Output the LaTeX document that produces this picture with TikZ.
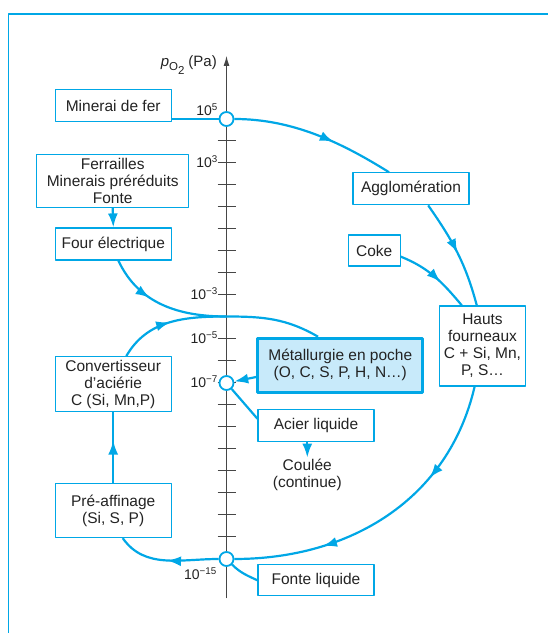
\documentclass[tikz,border=0pt]{standalone}
\usepackage{fontspec}
\setmainfont{Liberation Sans}
\usetikzlibrary{arrows.meta,decorations.markings}
\definecolor{flowblue}{RGB}{0,167,230}
\definecolor{pochefill}{RGB}{200,234,250}
\definecolor{inkgray}{RGB}{35,35,35}
\definecolor{axisgray}{RGB}{70,70,70}

\begin{document}
\begin{tikzpicture}[x = 1pt, y = 1pt, line join = round,
    box/.style = {draw = flowblue, line width = 1.2pt, fill = white, text = inkgray, align = center,
                  inner sep = 2pt, font = \fontsize{15.5}{17}\selectfont},
    ring/.style = {circle, draw = flowblue, line width = 1.8pt, fill = white, minimum size = 14pt, inner sep = 0pt},
    flow/.style = {draw = flowblue, color = flowblue, line width = 2.2pt},
    flowtip/.style = {-{Latex[length = 14pt, width = 10pt]}},
    midarrow/.style = {postaction = {decorate, decoration = {markings,
                       mark = at position #1 with {\arrow{Latex[length = 14pt, width = 10pt]}}}}},
    scalelabel/.style = {anchor = base east, inner sep = 0pt, text = inkgray, font = \fontsize{14}{16}\selectfont}]
      \useasboundingbox (0, 0) rectangle (548, 633);
      \draw [flowblue, line width = 1.2pt] (8.7, 0) -- (8.7, 619) -- (548, 619);

      \draw [axisgray, line width = 1pt, -{Latex[length = 10pt, width = 6pt]}] (226.5, 34.7) -- (226.5, 577);
      \foreach \e in {-14,...,4}
        \draw [axisgray, line width = 1pt] (217.5, {404 + 22*\e}) -- (235.5, {404 + 22*\e});

      \node [scalelabel, font = \fontsize{15}{16}\selectfont] (plabel) at (217, 566)
        {\textit{p}\raisebox{-4pt}{\fontsize{11.5}{12}\selectfont O\raisebox{-4pt}{2}}\hspace{4pt}(Pa)};
      \node [scalelabel] (l5) at (218, 517) {10\textsuperscript{5}};
      \node [scalelabel] (l3) at (218, 465) {10\textsuperscript{3}};
      \node [scalelabel] (lm3) at (218, 333) {10\textsuperscript{−3}};
      \node [scalelabel] (lm5) at (218, 289) {10\textsuperscript{−5}};
      \node [scalelabel] (lm7) at (218, 245) {10\textsuperscript{−7}};
      \node [scalelabel] (lm15) at (217, 53) {10\textsuperscript{−15}};

      \node [ring] (c1) at (226.5, 514){};
      \node [ring] (c2) at (226.5, 250){};
      \node [ring] (c3) at (226.5, 74){};

      \node [box, minimum width = 116pt, minimum height = 32pt] (minerai) at (113.2, 527.5) {Minerai de fer};
      \node [box, minimum width = 152pt, minimum height = 53pt] (ferrailles) at (112.7, 452.3) {Ferrailles\\Minerais préréduits\\Fonte};
      \node [box, minimum width = 116pt, minimum height = 32pt] (four) at (113.3, 389) {Four électrique};
      \node [box, minimum width = 116pt, minimum height = 55pt] (conv) at (113.2, 248.8) {Convertisseur\\d’aciérie\\C (Si, Mn,P)};
      \node [box, minimum width = 116pt, minimum height = 54pt] (pre) at (113.2, 122.5) {Pré-affinage\\(Si, S, P)};
      \node [box, minimum width = 116pt, minimum height = 32pt] (agglo) at (411, 444.2) {Agglomération};
      \node [box, minimum width = 52pt, minimum height = 31pt] (coke) at (374.2, 382.5) {Coke};
      \node [box, minimum width = 86pt, minimum height = 80pt] (hauts) at (482.5, 287) {Hauts\\fourneaux\\C + Si, Mn,\\P, S…};
      \node [box, line width = 3pt, fill = pochefill, minimum width = 165pt, minimum height = 54pt] (metal) at (340.3, 267.8) {Métallurgie en poche\\(O, C, S, P, H, N…)};
      \node [box, minimum width = 116pt, minimum height = 32pt] (acier) at (316, 207.1) {Acier liquide};
      \node [box, draw = none, fill = none, inner sep = 1pt] (coulee) at (307.3, 158) {Coulée\\(continue)};
      \node [box, minimum width = 116pt, minimum height = 31pt] (fonte) at (316, 52.7) {Fonte liquide};
      \coordinate (merge) at (226.5, 316.5);

      \draw [flow] (minerai.east |- c1) -- (c1);
      \draw [flow, midarrow = 0.62] (c1) to [out = 0, in = 148, looseness = 0.9] (agglo.143);
      \draw [flow, midarrow = 0.5] (agglo.-44) to [out = -55, in = 105] (hauts.98);
      \draw [flow, midarrow = 0.32, midarrow = 0.72] (hauts.259) to [out = -103, in = 0] (c3);
      \draw [flow, midarrow = 0.6] (coke.-13) to [out = -22, in = 130] (hauts.117);
      \draw [flow, flowtip] (ferrailles.south) -- (four.north);
      \draw [flow, midarrow = 0.38] (four.-73) to [out = -65, in = 180] (merge);
      \draw [flow, midarrow = 0.5] (conv.65) to [out = 60, in = 180] (merge);
      \draw [flow] (merge) to [out = 0, in = 150] (metal.128);
      \draw [flow, flowtip] (metal.188) -- (c2);
      \draw [flow] (c2) -- (acier.173);
      \draw [flow, flowtip] (acier.south -| coulee) -- (coulee.north);
      \draw [flow, midarrow = 0.5] (c3) to [out = 180, in = -55] (pre.-71);
      \draw [flow, midarrow = 0.6] (pre) -- (conv);
      \draw [flow] (c3) to [out = -45, in = 155] (fonte.west);
    \end{tikzpicture}
\end{document}
